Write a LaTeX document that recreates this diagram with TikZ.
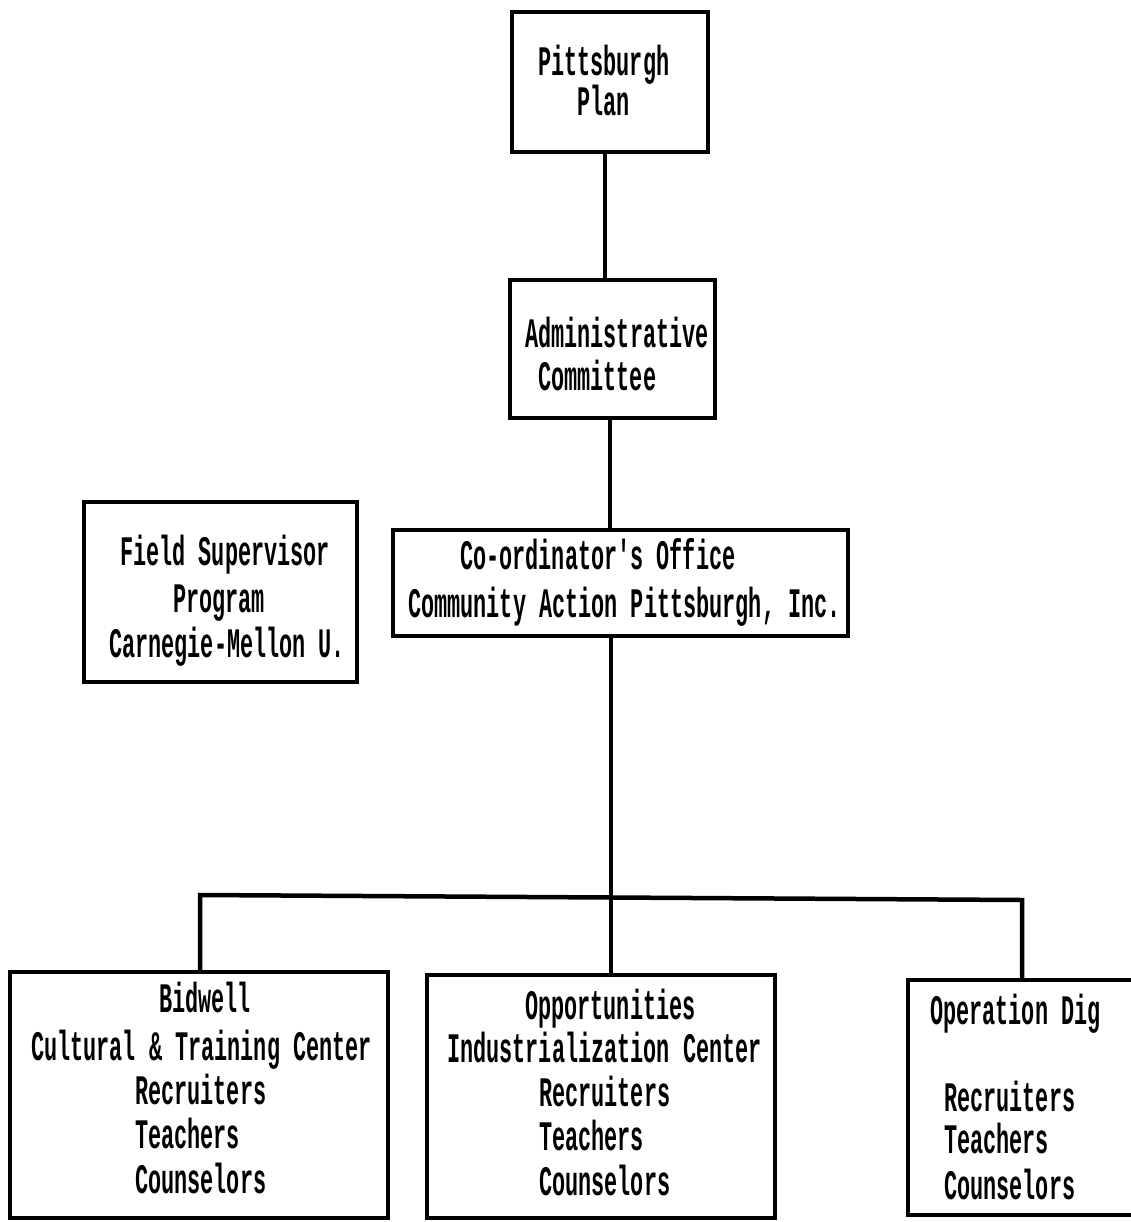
\documentclass[tikz,border=0pt]{standalone}
\usepackage{fontspec}
\newfontfamily\tw[FakeStretch=0.52]{Liberation Mono Bold}
\begin{document}
\begin{tikzpicture}[x=1pt,y=-1pt,
  box/.style={draw=black,line width=4.5pt,rectangle,inner sep=0pt},
  conn/.style={draw=black,line width=4.5pt},
  lbl/.style={anchor=base west,inner sep=0pt,font=\tw\fontsize{42}{44}\selectfont}]
\useasboundingbox (0,0) rectangle (1130,1222);
% boxes
\node[box,minimum width=196pt,minimum height=140pt] (pp) at (610,82) {};
\node[box,minimum width=205pt,minimum height=138pt] (ac) at (612.5,349) {};
\node[box,minimum width=455pt,minimum height=106pt] (co) at (620.5,583) {};
\node[box,minimum width=273pt,minimum height=180pt] (fs) at (220.5,592) {};
\node[box,minimum width=378pt,minimum height=246pt] (bw) at (199,1095) {};
\node[box,minimum width=348pt,minimum height=243pt] (oi) at (601,1096.5) {};
\node[box,minimum width=260pt,minimum height=235pt] (od) at (1038,1097.5) {};
% connector points
\coordinate (bl) at (200,895);
\coordinate (bm) at (611,897);
\coordinate (br) at (1022,900);
% connectors
\draw[conn] (pp.south -| 605,0) -- (ac.north -| 605,0);
\draw[conn] (ac.south -| 610,0) -- (co.north -| 610,0);
\draw[conn] (co.south -| bm) -- (oi.north -| bm);
\draw[conn] (bw.north -| bl) -- (bl) -- (br) -- (od.north -| br);
% texts
\node[lbl] (t1) at (538,76) {Pittsburgh};
\node[lbl] (t2) at (577,116) {Plan};
\node[lbl] (t3) at (525,347) {Administrative};
\node[lbl] (t4) at (538,390) {Committee};
\node[lbl] (t5) at (460,569) {Co-ordinator's Office};
\node[lbl] (t6) at (408,617) {Community Action Pittsburgh, Inc.};
\node[lbl] (t7) at (120,565) {Field Supervisor};
\node[lbl] (t8) at (173,612) {Program};
\node[lbl] (t9) at (109,657) {Carnegie-Mellon U.};
\node[lbl] (b1) at (159,1012) {Bidwell};
\node[lbl] (b2) at (31,1060) {Cultural \& Training Center};
\node[lbl] (b3) at (135,1104) {Recruiters};
\node[lbl] (b4) at (135,1148) {Teachers};
\node[lbl] (b5) at (135,1193) {Counselors};
\node[lbl] (o1) at (525,1019) {Opportunities};
\node[lbl] (o2) at (447,1062) {Industrialization Center};
\node[lbl] (o3) at (539,1106) {Recruiters};
\node[lbl] (o4) at (539,1150) {Teachers};
\node[lbl] (o5) at (539,1195) {Counselors};
\node[lbl] (d1) at (930,1024) {Operation Dig};
\node[lbl] (d2) at (944,1111) {Recruiters};
\node[lbl] (d3) at (944,1153) {Teachers};
\node[lbl] (d4) at (944,1199) {Counselors};
\end{tikzpicture}
\end{document}
